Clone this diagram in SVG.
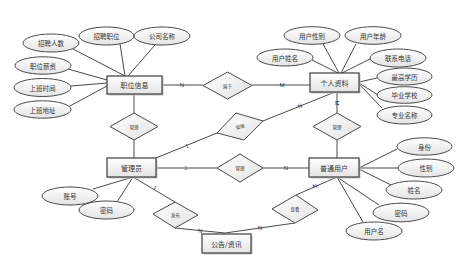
<svg xmlns="http://www.w3.org/2000/svg" width="472" height="257" viewBox="0 0 472 257">
<defs>
<linearGradient id="g" x1="0" y1="0" x2="0" y2="1">
<stop offset="0" stop-color="#ffffff"/>
<stop offset="1" stop-color="#e4e4e4"/>
</linearGradient>
<linearGradient id="gd" x1="0" y1="0" x2="1" y2="1">
<stop offset="0" stop-color="#ffffff"/>
<stop offset="1" stop-color="#e2e2e2"/>
</linearGradient>
<style>
.ent{fill:url(#g);stroke:#4a4a4a;stroke-width:1.3}
.sh{fill:#c4c4c4}
.att{fill:url(#g);stroke:#4a4a4a;stroke-width:1}
.rel{fill:url(#gd);stroke:#4a4a4a;stroke-width:1}
.ln{stroke:#4a4a4a;stroke-width:1;fill:none}
text{font-family:"Noto Sans CJK SC","Liberation Sans",sans-serif;fill:#333;text-anchor:middle;dominant-baseline:central}
.te{font-size:7px}
.ta{font-size:6.5px}
.tr{font-size:4.5px}
.tl{font-size:6px;fill:#2a3560;font-family:"Liberation Sans",sans-serif}
.to{font-size:6px;fill:#a05a10;font-family:"Liberation Sans",sans-serif}
</style>
</defs>
<rect width="472" height="257" fill="#ffffff"/>
<g id="connectors">
<line class="ln" x1="73" y1="49" x2="125" y2="76"/>
<line class="ln" x1="120" y1="44" x2="125" y2="76"/>
<line class="ln" x1="155" y1="45" x2="128" y2="76"/>
<line class="ln" x1="68" y1="69" x2="107" y2="80"/>
<line class="ln" x1="71" y1="86" x2="107" y2="83"/>
<line class="ln" x1="68" y1="107" x2="107" y2="86"/>
<line class="ln" x1="162" y1="85" x2="203" y2="85"/>
<line class="ln" x1="252" y1="85" x2="310" y2="85"/>
<line class="ln" x1="134" y1="94" x2="134" y2="113"/>
<line class="ln" x1="134" y1="140" x2="134" y2="158"/>
<line class="ln" x1="156" y1="158" x2="217" y2="133"/>
<line class="ln" x1="263" y1="121" x2="335" y2="92"/>
<line class="ln" x1="156" y1="168" x2="217" y2="168"/>
<line class="ln" x1="263" y1="168" x2="309" y2="168"/>
<line class="ln" x1="337" y1="92" x2="337" y2="113"/>
<line class="ln" x1="337" y1="140" x2="337" y2="158"/>
<line class="ln" x1="133" y1="177" x2="175" y2="202"/>
<line class="ln" x1="175" y1="228" x2="225" y2="233"/>
<line class="ln" x1="337" y1="177" x2="296" y2="195"/>
<line class="ln" x1="295" y1="223" x2="225" y2="233"/>
<line class="ln" x1="312" y1="60" x2="338" y2="73"/>
<line class="ln" x1="323" y1="44" x2="339" y2="73"/>
<line class="ln" x1="356" y1="44" x2="341" y2="73"/>
<line class="ln" x1="372" y1="58" x2="342" y2="73"/>
<line class="ln" x1="377" y1="78" x2="359" y2="82"/>
<line class="ln" x1="378" y1="95" x2="359" y2="83"/>
<line class="ln" x1="382" y1="108" x2="359" y2="84"/>
<line class="ln" x1="359" y1="168" x2="397" y2="149"/>
<line class="ln" x1="359" y1="168" x2="398" y2="168"/>
<line class="ln" x1="359" y1="169" x2="391" y2="185"/>
<line class="ln" x1="337" y1="177" x2="379" y2="205"/>
<line class="ln" x1="337" y1="177" x2="363" y2="222"/>
<line class="ln" x1="93" y1="189" x2="133" y2="177"/>
<line class="ln" x1="117" y1="202" x2="133" y2="177"/>
<text class="tl" x="182" y="85">N</text>
<text class="tl" x="282" y="85">M</text>
<text class="tl" x="187" y="146" transform="rotate(-22 187 146)">1</text>
<text class="tl" x="300" y="106" transform="rotate(-22 300 106)">N</text>
<text class="to" x="186" y="168">1</text>
<text class="tl" x="286" y="168">N</text>
<text class="tl" x="337" y="103" transform="rotate(90 337 103)">M</text>
<text class="tl" x="337" y="132" transform="rotate(90 337 132)">N</text>
<text class="tl" x="155" y="188" transform="rotate(31 155 188)">1</text>
<text class="tl" x="200" y="231" transform="rotate(6 200 231)">N</text>
<text class="tl" x="315" y="186" transform="rotate(-24 315 186)">N</text>
<text class="tl" x="260" y="228" transform="rotate(-8 260 228)">N</text>
</g>
<g id="e-zwxx"><rect class="sh" x="108.5" y="77.5" width="55" height="18"/><rect class="ent" x="107" y="76" width="55" height="18"/><text class="te" x="134.5" y="85">职位信息</text></g>
<g id="e-grzl"><rect class="sh" x="311.5" y="74.5" width="49" height="19"/><rect class="ent" x="310" y="73" width="49" height="19"/><text class="te" x="334.5" y="82.5">个人资料</text></g>
<g id="e-gly"><rect class="sh" x="108.5" y="159.5" width="49" height="19"/><rect class="ent" x="107" y="158" width="49" height="19"/><text class="te" x="131.5" y="167.5">管理员</text></g>
<g id="e-ptyh"><rect class="sh" x="310.5" y="159.5" width="50" height="19"/><rect class="ent" x="309" y="158" width="50" height="19"/><text class="te" x="334" y="167.5">普通用户</text></g>
<g id="e-ggzx"><rect class="sh" x="203.5" y="235.5" width="49" height="19"/><rect class="ent" x="202" y="234" width="49" height="19"/><text class="te" x="226.5" y="243.5">公告/资讯</text></g>
<g id="r-sy"><polygon class="rel" points="203,85.5 227.5,72 252,85.5 227.5,99"/><text class="tr" x="227.5" y="85.5">属于</text></g>
<g id="r-gl1"><polygon class="rel" points="110,126.5 134,113 158,126.5 134,140"/><text class="tr" x="134" y="126.5">管理</text></g>
<g id="r-gl2"><polygon class="rel" points="217,133 236,113 263,121 244,140"/><text class="tr" x="240" y="126.5" transform="rotate(-15 240 126.5)">管理</text></g>
<g id="r-gl3"><polygon class="rel" points="217,168 240,154 263,168 240,182"/><text class="tr" x="240" y="168">管理</text></g>
<g id="r-gl4"><polygon class="rel" points="313,126.5 337,113 361,126.5 337,140"/><text class="tr" x="337" y="126.5">管理</text></g>
<g id="r-fb"><polygon class="rel" points="153,214 175,202 198,215 175,228"/><text class="tr" x="175.5" y="215">发布</text></g>
<g id="r-ck"><polygon class="rel" points="272,209 296,195 318,210 295,223"/><text class="tr" x="295" y="209">查看</text></g>
<g id="a-zprs"><ellipse class="att" cx="51" cy="43" rx="28" ry="9"/><text class="ta" x="51" y="43">招聘人数</text></g>
<g id="a-zpzw"><ellipse class="att" cx="106.5" cy="36" rx="27.5" ry="9"/><text class="ta" x="106.5" y="36">招聘职位</text></g>
<g id="a-gsmc"><ellipse class="att" cx="162" cy="36" rx="28" ry="9"/><text class="ta" x="162" y="36">公司名称</text></g>
<g id="a-zwxz"><ellipse class="att" cx="43" cy="65.5" rx="28" ry="8.7"/><text class="ta" x="43" y="65.5">职位薪资</text></g>
<g id="a-sbsj"><ellipse class="att" cx="42.5" cy="87.5" rx="28.5" ry="9"/><text class="ta" x="42.5" y="87.5">上班时间</text></g>
<g id="a-sbdz"><ellipse class="att" cx="42.5" cy="109.5" rx="28.5" ry="8.7"/><text class="ta" x="42.5" y="109.5">上班地址</text></g>
<g id="a-yhxb"><ellipse class="att" cx="312" cy="35.5" rx="28" ry="8.8"/><text class="ta" x="312" y="35.5">用户性别</text></g>
<g id="a-yhnl"><ellipse class="att" cx="373" cy="35.5" rx="28" ry="8.8"/><text class="ta" x="373" y="35.5">用户年龄</text></g>
<g id="a-yhxm"><ellipse class="att" cx="285" cy="57.5" rx="28" ry="8.5"/><text class="ta" x="285" y="57.5">用户姓名</text></g>
<g id="a-lxdh"><ellipse class="att" cx="398" cy="58" rx="28" ry="9"/><text class="ta" x="398" y="58">联系电话</text></g>
<g id="a-zgxl"><ellipse class="att" cx="404.5" cy="76.5" rx="27.5" ry="8.5"/><text class="ta" x="404.5" y="76.5">最高学历</text></g>
<g id="a-byxx"><ellipse class="att" cx="404.5" cy="95" rx="27.5" ry="8.3"/><text class="ta" x="404.5" y="95">毕业学校</text></g>
<g id="a-zymc"><ellipse class="att" cx="404.5" cy="115" rx="27.5" ry="9"/><text class="ta" x="404.5" y="115">专业名称</text></g>
<g id="a-sf"><ellipse class="att" cx="424.5" cy="146.5" rx="27.5" ry="8.7"/><text class="ta" x="424.5" y="146.5">身份</text></g>
<g id="a-xb"><ellipse class="att" cx="426" cy="168" rx="28" ry="9"/><text class="ta" x="426" y="168">性别</text></g>
<g id="a-xm"><ellipse class="att" cx="414" cy="190" rx="28" ry="9"/><text class="ta" x="414" y="190">姓名</text></g>
<g id="a-mm2"><ellipse class="att" cx="401" cy="212.5" rx="28" ry="9.3"/><text class="ta" x="401" y="212.5">密码</text></g>
<g id="a-yhm"><ellipse class="att" cx="374" cy="231" rx="28" ry="9"/><text class="ta" x="374" y="231">用户名</text></g>
<g id="a-zh"><ellipse class="att" cx="70" cy="196" rx="28" ry="9"/><text class="ta" x="70" y="196">账号</text></g>
<g id="a-mm1"><ellipse class="att" cx="106.5" cy="210" rx="27.5" ry="9"/><text class="ta" x="106.5" y="210">密码</text></g>
</svg>
